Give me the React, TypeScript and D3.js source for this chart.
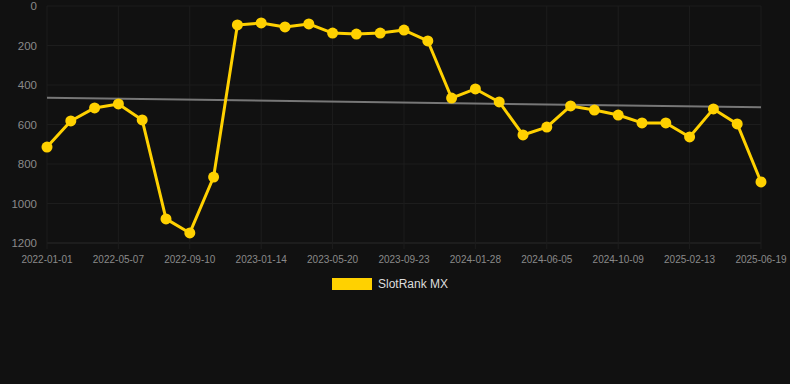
import React from "react";
import * as d3 from "d3";

const tickLabels = [
  "2022-01-01", "2022-05-07", "2022-09-10", "2023-01-14", "2023-05-20", "2023-09-23",
  "2024-01-28", "2024-06-05", "2024-10-09", "2025-02-13", "2025-06-19",
];

const rankValues = [
  714, 582, 516, 496, 577, 1078, 1149, 866, 96, 86, 106, 91, 137, 142, 137, 122, 177,
  466, 420, 486, 653, 613, 506, 527, 552, 592, 592, 663, 521, 597, 891,
];

const yTicks = [0, 200, 400, 600, 800, 1000, 1200];
const seriesName = "SlotRank MX";

const W = 790;
const H = 384;
const left = 47;
const right = 761;
const top = 6;
const bottom = 243;

export default function App() {
  const n = rankValues.length;
  const x = d3.scaleLinear().domain([0, n - 1]).range([left, right]);
  const y = d3.scaleLinear().domain([0, 1200]).range([top, bottom]);

  // linear regression trend
  const xs = rankValues.map((_, i) => i);
  const mx = d3.mean(xs) as number;
  const my = d3.mean(rankValues) as number;
  let num = 0, den = 0;
  xs.forEach((xi, i) => {
    num += (xi - mx) * (rankValues[i] - my);
    den += (xi - mx) * (xi - mx);
  });
  const slope = num / den;
  const icpt = my - slope * mx;
  const trend = [0, n - 1].map((i) => [x(i), y(icpt + slope * i)] as [number, number]);

  const line = d3.line<number>().x((_, i) => x(i)).y((d) => y(d));
  const tickIdx = tickLabels.map((_, i) => i * 3);
  const font = "'Liberation Sans', Arial, sans-serif";

  return (
    <div style={{ position: "fixed", left: 0, top: 0 }}>
      <svg width={W} height={H} style={{ display: "block", background: "#111111" }}>
        <rect width={W} height={H} fill="#111111" />
        {yTicks.map((t) => (
          <line key={"h" + t} x1={left} x2={right} y1={y(t)} y2={y(t)} stroke={t === 1200 ? "#2a2a2a" : "#1d1d1d"} strokeWidth={1} />
        ))}
        {tickIdx.map((i) => (
          <line key={"v" + i} x1={x(i)} x2={x(i)} y1={top} y2={bottom + 6} stroke="#1d1d1d" strokeWidth={1} />
        ))}
        {yTicks.map((t) => (
          <text key={"yl" + t} x={37} y={y(t)} dy="0.35em" textAnchor="end" fill="#8a8a8a" fontSize={11.5} fontFamily={font}>
            {t}
          </text>
        ))}
        {tickLabels.map((l, k) => (
          <text key={"xl" + l} x={x(tickIdx[k])} y={259} dy="0.35em" textAnchor="middle" fill="#8a8a8a" fontSize={10} fontFamily={font}>
            {l}
          </text>
        ))}
        <line x1={trend[0][0]} y1={trend[0][1]} x2={trend[1][0]} y2={trend[1][1]} stroke="#777777" strokeWidth={2} />
        <path d={line(rankValues) as string} fill="none" stroke="#FFD100" strokeWidth={3} strokeLinejoin="round" />
        {rankValues.map((v, i) => (
          <circle key={"p" + i} cx={x(i)} cy={y(v)} r={5.5} fill="#FFD100" />
        ))}
        <rect x={332} y={278} width={40} height={12} fill="#FFD100" />
        <text x={378} y={284} dy="0.35em" fill="#dddddd" fontSize={12} fontFamily={font}>
          {seriesName}
        </text>
      </svg>
    </div>
  );
}
